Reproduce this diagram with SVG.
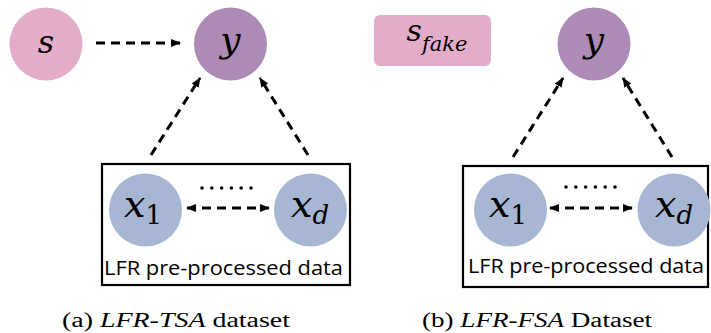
<svg xmlns="http://www.w3.org/2000/svg" width="711" height="333" viewBox="0 0 711 333">
<style>
.pink{fill:#E3ADCA}
.purple{fill:#AE8BB6}
.blue{fill:#A7B6D3}
.math{font-family:"DejaVu Serif","Liberation Serif",serif;font-style:italic;fill:#000;text-anchor:middle}
.lbl{font-family:"Open Sans","Noto Sans",sans-serif;font-size:20px;fill:#000}
.cap{font-family:"Liberation Serif","DejaVu Serif",serif;font-size:20px;fill:#000}
.box{fill:none;stroke:#000;stroke-width:2.2}
.dash{fill:none;stroke:#000;stroke-width:3;stroke-dasharray:9 6}
.dot{fill:#000}
</style>
<defs>
<marker id="ah" markerUnits="userSpaceOnUse" markerWidth="10" markerHeight="10" viewBox="0 0 10 10" refX="9" refY="5" orient="auto-start-reverse">
<path d="M0,1 L10,5 L0,9 Z" fill="#000"/>
</marker>
</defs>

<g id="connectors">
<line class="dash" x1="96" y1="43" x2="180" y2="43" marker-end="url(#ah)"/>
<line class="dash" x1="151" y1="155" x2="200" y2="78" marker-end="url(#ah)"/>
<line class="dash" x1="308" y1="155" x2="260" y2="78" marker-end="url(#ah)"/>
<line class="dash" x1="187" y1="208" x2="269" y2="208" marker-start="url(#ah)" marker-end="url(#ah)"/>
<line class="dash" x1="513" y1="157" x2="563" y2="78" marker-end="url(#ah)"/>
<line class="dash" x1="672" y1="157" x2="623" y2="78" marker-end="url(#ah)"/>
<line class="dash" x1="550" y1="208" x2="632" y2="208" marker-start="url(#ah)" marker-end="url(#ah)"/>
</g>

<g id="node-s">
<circle class="pink" cx="46" cy="44" r="36.5"/>
<text class="math" x="46" y="53" font-size="32">s</text>
</g>
<g id="node-y-a">
<circle class="purple" cx="230.5" cy="44" r="36.5"/>
<text class="math" x="230.5" y="52" font-size="36">y</text>
</g>
<g id="box-a">
<rect class="box" x="102" y="164" width="248" height="121"/>
<text class="lbl" x="104" y="275" textLength="239" lengthAdjust="spacingAndGlyphs">LFR pre-processed data</text>
</g>
<g id="node-x1-a">
<circle class="blue" cx="145.5" cy="210" r="36.5"/>
<text class="math" x="143" y="217" font-size="38">x<tspan font-size="26" font-style="normal" dy="7">1</tspan></text>
</g>
<g id="node-xd-a">
<circle class="blue" cx="310.5" cy="210" r="36.5"/>
<text class="math" x="310" y="217" font-size="38">x<tspan font-size="26" dy="7">d</tspan></text>
</g>
<g id="dots-a">
<circle class="dot" cx="202" cy="188" r="1.8"/><circle class="dot" cx="211.8" cy="188" r="1.8"/><circle class="dot" cx="221.6" cy="188" r="1.8"/><circle class="dot" cx="231.4" cy="188" r="1.8"/><circle class="dot" cx="241.2" cy="188" r="1.8"/><circle class="dot" cx="251" cy="188" r="1.8"/>
</g>
<text class="cap" x="62" y="327" textLength="228" lengthAdjust="spacingAndGlyphs">(a) <tspan font-style="italic">LFR-TSA</tspan> dataset</text>

<g id="node-sfake">
<rect class="pink" x="374" y="15" width="117" height="51" rx="6"/>
<text class="math" x="437" y="41" font-size="30">s<tspan font-size="21" dy="10">fake</tspan></text>
</g>
<g id="node-y-b">
<circle class="purple" cx="594" cy="44" r="36.5"/>
<text class="math" x="594" y="52" font-size="36">y</text>
</g>
<g id="box-b">
<rect class="box" x="463" y="166" width="245" height="121"/>
<text class="lbl" x="468" y="273" textLength="236" lengthAdjust="spacingAndGlyphs">LFR pre-processed data</text>
</g>
<g id="node-x1-b">
<circle class="blue" cx="510.5" cy="210" r="36.5"/>
<text class="math" x="508" y="217" font-size="38">x<tspan font-size="26" font-style="normal" dy="7">1</tspan></text>
</g>
<g id="node-xd-b">
<circle class="blue" cx="674" cy="210" r="36.5"/>
<text class="math" x="674" y="217" font-size="38">x<tspan font-size="26" dy="7">d</tspan></text>
</g>
<g id="dots-b">
<circle class="dot" cx="566" cy="187" r="1.8"/><circle class="dot" cx="575.8" cy="187" r="1.8"/><circle class="dot" cx="585.6" cy="187" r="1.8"/><circle class="dot" cx="595.4" cy="187" r="1.8"/><circle class="dot" cx="605.2" cy="187" r="1.8"/><circle class="dot" cx="615" cy="187" r="1.8"/>
</g>
<text class="cap" x="422" y="327" textLength="230" lengthAdjust="spacingAndGlyphs">(b) <tspan font-style="italic">LFR-FSA</tspan> Dataset</text>
</svg>
